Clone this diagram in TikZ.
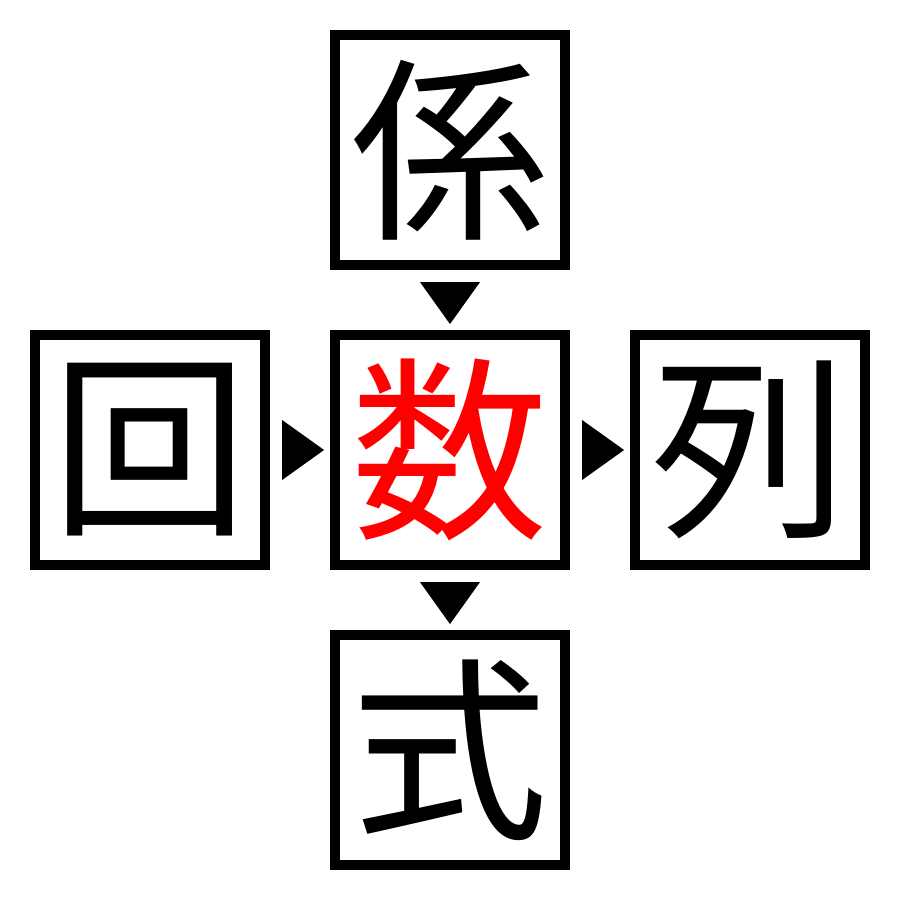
\documentclass[tikz,border=0pt]{standalone}
\usepackage{fontspec}
\newfontfamily\cjk{Noto Sans CJK JP}
\usetikzlibrary{calc}
\definecolor{kred}{RGB}{255,0,0}
\tikzset{
  kbox/.style={draw=black, line width=0.1cm, minimum size=2.3cm, inner sep=0pt,
    font=\cjk\fontsize{56}{56}\selectfont, text=black},
  tri/.style={fill=black, draw=none}
}
\begin{document}
\begin{tikzpicture}[x=0.01cm, y=0.01cm]
\useasboundingbox (0,0) rectangle (900,900);
\node[kbox] (t) at (450,750) {係};
\node[kbox, text=kred] (c) at (450,450) {数};
\node[kbox] (l) at (150,450) {回};
\node[kbox] (r) at (750,450) {列};
\node[kbox] (b) at (450,150) {式};
% down triangles
\fill[tri] ($(t.south)+(-30,-12)$) -- ($(t.south)+(30,-12)$) -- ($(t.south)+(0,-54)$) -- cycle;
\fill[tri] ($(c.south)+(-30,-12)$) -- ($(c.south)+(30,-12)$) -- ($(c.south)+(0,-54)$) -- cycle;
% right triangles
\fill[tri] ($(l.east)+(12,30)$) -- ($(l.east)+(12,-30)$) -- ($(l.east)+(54,0)$) -- cycle;
\fill[tri] ($(c.east)+(12,30)$) -- ($(c.east)+(12,-30)$) -- ($(c.east)+(54,0)$) -- cycle;
\end{tikzpicture}
\end{document}
